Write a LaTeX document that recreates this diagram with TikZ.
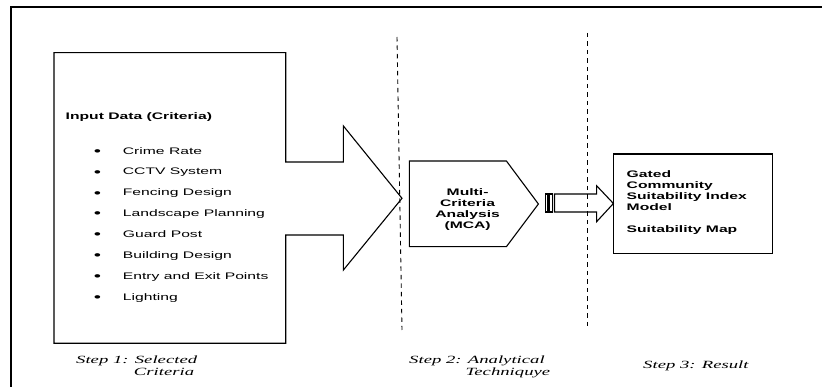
\documentclass[tikz,border=0pt]{standalone}
\usepackage{fontspec}
\newfontfamily\arialfont[FakeStretch=1.65]{Liberation Sans}
\newfontfamily\stepfont[FakeStretch=1.7]{Liberation Serif}
\tikzset{
  shapeline/.style={draw=black, line width=1.1pt, line join=miter},
  divider/.style={draw=black, line width=0.9pt, dash pattern=on 4.5pt off 4pt},
  frameline/.style={draw=black, line width=1.2pt},
  itemtext/.style={anchor=base west, inner sep=0pt, font=\arialfont\fontsize{9.5}{11}\selectfont},
  boldtext/.style={anchor=base west, inner sep=0pt, font=\arialfont\bfseries\fontsize{9.5}{11}\selectfont},
  boldcenter/.style={anchor=base, inner sep=0pt, font=\arialfont\bfseries\fontsize{9.5}{11}\selectfont},
  bullettext/.style={anchor=base, inner sep=0pt, font=\arialfont\fontsize{12.5}{13}\selectfont},
  steptext/.style={anchor=base west, inner sep=0pt, font=\stepfont\itshape\fontsize{11}{13}\selectfont},
}
\begin{document}
\begin{tikzpicture}[x=1pt,y=-1pt]
\useasboundingbox (0,0) rectangle (822,387);
% outer frame
\draw[frameline] (11,387) -- (11,7) -- (822,7);
% dashed dividers
\draw[divider] (397,37) -- (402,330);
\draw[divider] (587.5,33) -- (587.5,327);
% input box with big arrow
\draw[shapeline] (54,52.7) -- (285.7,52.7) -- (285.7,162) -- (343.4,162) -- (343.4,126)
  -- (402,198.3) -- (343.4,270) -- (343.4,235) -- (285.7,235) -- (285.7,343.3)
  -- (54,343.3) -- cycle;
\node[boldtext] (inputtitle) at (65.5,120) {Input Data (Criteria)};
\foreach \t [count=\i from 0] in {Crime Rate,CCTV System,Fencing Design,Landscape Planning,Guard Post,Building Design,Entry and Exit Points,Lighting}{
  \node[bullettext] (bul\i) at (97.5,{155.3+20.86*\i}) {•};
  \node[itemtext] (item\i) at (122.7,{154.1+20.86*\i}) {\t};
}
% MCA pentagon
\draw[shapeline] (409.4,161) -- (506.4,161) -- (538.4,204) -- (506.4,246.7) -- (409.4,246.7) -- cycle;
\node[boldcenter] (mca1) at (467.6,195.1) {Multi-};
\node[boldcenter] (mca2) at (467.6,206.1) {Criteria};
\node[boldcenter] (mca3) at (467.6,217.1) {Analysis};
\node[boldcenter] (mca4) at (467.6,228.1) {(MCA)};
% striped arrow
\draw[shapeline] (545.2,194) rectangle (547.3,212);
\draw[shapeline] (549,194) rectangle (552.6,212);
\draw[shapeline] (554.5,194) -- (596.6,194) -- (596.6,185.7) -- (613.4,203.5)
  -- (596.6,221.7) -- (596.6,212) -- (554.5,212) -- cycle;
% result box
\node[shapeline, rectangle, minimum width=158.9pt, minimum height=99.3pt, inner sep=0pt] (result) at (692.85,203.65) {};
\node[boldtext] (res1) at (626.5,177.1) {Gated};
\node[boldtext] (res2) at (626.5,188.1) {Community};
\node[boldtext] (res3) at (626.5,199.1) {Suitability Index};
\node[boldtext] (res4) at (626.5,210.1) {Model};
\node[boldtext] (res5) at (626.5,232.1) {Suitability Map};
% step labels
\node[steptext] (step1a) at (76,363) {Step 1: Selected};
\node[steptext] (step1b) at (133.7,375.6) {Criteria};
\node[steptext] (step2a) at (409,363) {Step 2: Analytical};
\node[steptext] (step2b) at (465.5,375.6) {Techniquye};
\node[steptext] (step3) at (643,368.9) {Step 3: Result};
\end{tikzpicture}
\end{document}
